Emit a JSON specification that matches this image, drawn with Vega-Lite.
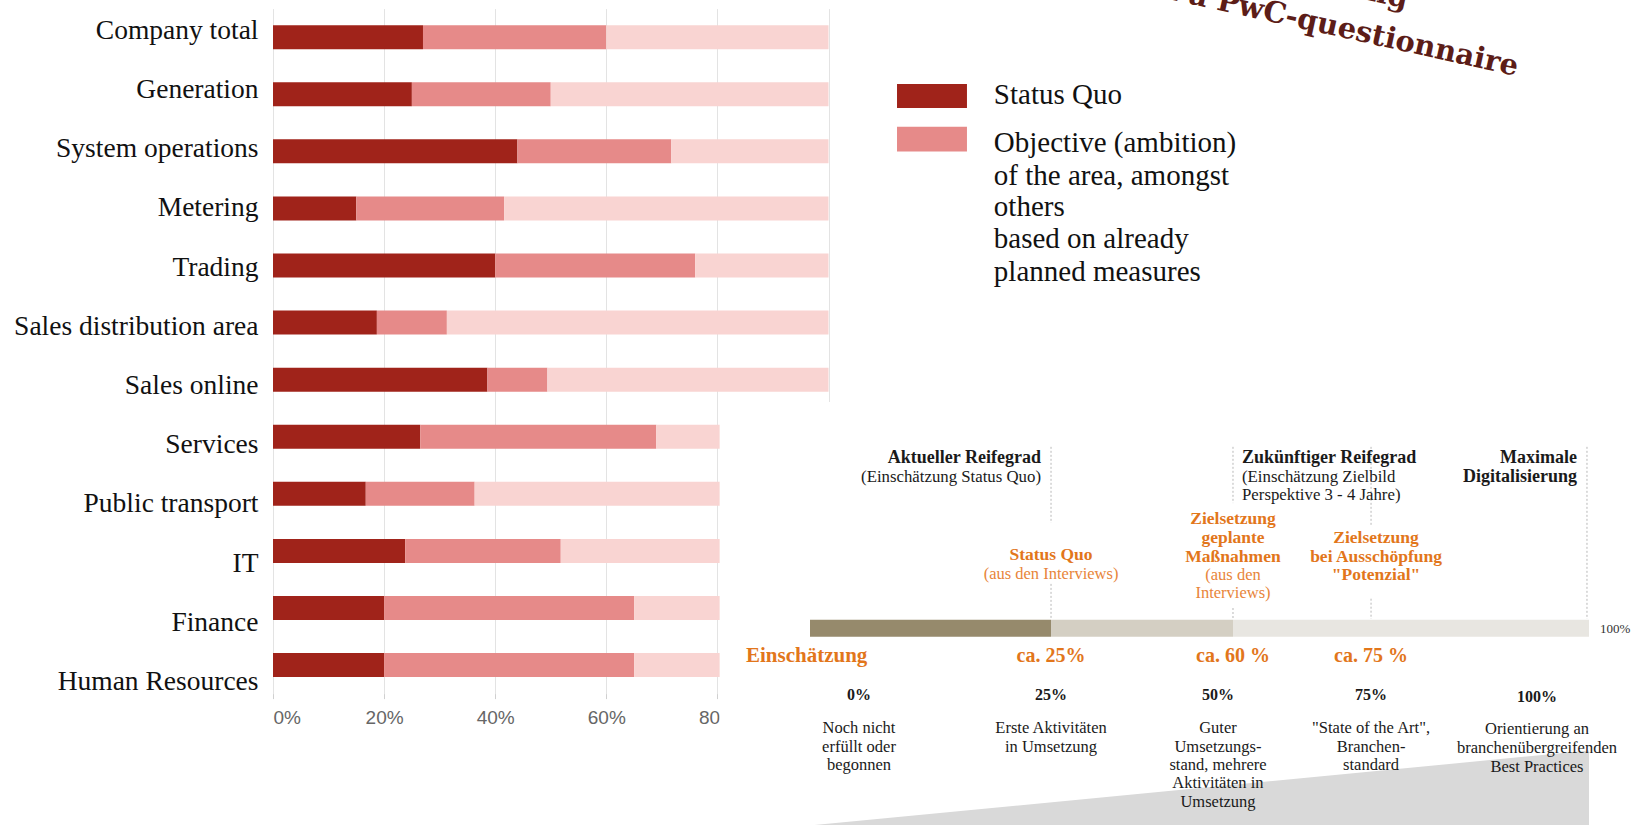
{
  "$schema": "https://vega.github.io/schema/vega-lite/v6.json",
  "autosize": {"type": "none"},
  "width": 555.5,
  "height": 685,
  "padding": {"left": 273, "top": 8.6, "right": 810.5, "bottom": 131.4},
  "background": "white",
  "config": {"view": {"stroke": null}, "font": "Liberation Serif"},
  "datasets": {
    "maturity": [
      {"area": "Company total", "segment": "Status Quo", "start": 0, "end": 0.27},
      {"area": "Company total", "segment": "Objective", "start": 0.27, "end": 0.60},
      {"area": "Company total", "segment": "Remaining", "start": 0.60, "end": 1},
      {"area": "Generation", "segment": "Status Quo", "start": 0, "end": 0.25},
      {"area": "Generation", "segment": "Objective", "start": 0.25, "end": 0.50},
      {"area": "Generation", "segment": "Remaining", "start": 0.50, "end": 1},
      {"area": "System operations", "segment": "Status Quo", "start": 0, "end": 0.44},
      {"area": "System operations", "segment": "Objective", "start": 0.44, "end": 0.717},
      {"area": "System operations", "segment": "Remaining", "start": 0.717, "end": 1},
      {"area": "Metering", "segment": "Status Quo", "start": 0, "end": 0.15},
      {"area": "Metering", "segment": "Objective", "start": 0.15, "end": 0.416},
      {"area": "Metering", "segment": "Remaining", "start": 0.416, "end": 1},
      {"area": "Trading", "segment": "Status Quo", "start": 0, "end": 0.40},
      {"area": "Trading", "segment": "Objective", "start": 0.40, "end": 0.76},
      {"area": "Trading", "segment": "Remaining", "start": 0.76, "end": 1},
      {"area": "Sales distribution area", "segment": "Status Quo", "start": 0, "end": 0.187},
      {"area": "Sales distribution area", "segment": "Objective", "start": 0.187, "end": 0.313},
      {"area": "Sales distribution area", "segment": "Remaining", "start": 0.313, "end": 1},
      {"area": "Sales online", "segment": "Status Quo", "start": 0, "end": 0.386},
      {"area": "Sales online", "segment": "Objective", "start": 0.386, "end": 0.494},
      {"area": "Sales online", "segment": "Remaining", "start": 0.494, "end": 1},
      {"area": "Services", "segment": "Status Quo", "start": 0, "end": 0.265},
      {"area": "Services", "segment": "Objective", "start": 0.265, "end": 0.69},
      {"area": "Services", "segment": "Remaining", "start": 0.69, "end": 1},
      {"area": "Public transport", "segment": "Status Quo", "start": 0, "end": 0.167},
      {"area": "Public transport", "segment": "Objective", "start": 0.167, "end": 0.363},
      {"area": "Public transport", "segment": "Remaining", "start": 0.363, "end": 1},
      {"area": "IT", "segment": "Status Quo", "start": 0, "end": 0.238},
      {"area": "IT", "segment": "Objective", "start": 0.238, "end": 0.518},
      {"area": "IT", "segment": "Remaining", "start": 0.518, "end": 1},
      {"area": "Finance", "segment": "Status Quo", "start": 0, "end": 0.20},
      {"area": "Finance", "segment": "Objective", "start": 0.20, "end": 0.65},
      {"area": "Finance", "segment": "Remaining", "start": 0.65, "end": 1},
      {"area": "Human Resources", "segment": "Status Quo", "start": 0, "end": 0.20},
      {"area": "Human Resources", "segment": "Objective", "start": 0.20, "end": 0.65},
      {"area": "Human Resources", "segment": "Remaining", "start": 0.65, "end": 1}
    ],
    "legendSwatches": [
      {"segment": "Status Quo", "top": -75.2, "bottom": -69.5},
      {"segment": "Objective", "top": -65.1, "bottom": -59.2}
    ],
    "legendLabels": [
      {"text": "Status Quo", "u": 23.6, "v": -72.55},
      {"text": "Objective (ambition)", "u": 23.6, "v": -61.18},
      {"text": "of the area, amongst", "u": 23.6, "v": -53.52},
      {"text": "others", "u": 23.6, "v": -46.10},
      {"text": "based on already", "u": 23.6, "v": -38.44},
      {"text": "planned measures", "u": 23.6, "v": -30.78}
    ],
    "titleLines": [
      {"text": "Maturity rating", "u": 76.5, "v": -93.05},
      {"text": "based on a PwC-questionnaire", "u": 90.63, "v": -77.07}
    ],
    "wedge": [
      {"u": 0.6, "top": 100, "base": 103},
      {"u": 100, "top": 82.4, "base": 103}
    ],
    "guides": [
      {"u": 30.94, "v0": 10.6, "v1": 28.6},
      {"u": 30.94, "v0": 43.0, "v1": 51.3},
      {"u": 54.30, "v0": 10.6, "v1": 23.9},
      {"u": 54.30, "v0": 48.7, "v1": 51.3},
      {"u": 72.02, "v0": 10.6, "v1": 29.5},
      {"u": 72.02, "v0": 46.5, "v1": 51.3},
      {"u": 99.74, "v0": 10.6, "v1": 51.3}
    ],
    "stages": [
      {"stage": "Status Quo", "from": 0, "to": 30.94},
      {"stage": "Zielsetzung geplante Maßnahmen", "from": 30.94, "to": 54.30},
      {"stage": "Maximale Digitalisierung", "from": 54.30, "to": 100}
    ],
    "headBoldRight": [
      {"text": "Aktueller Reifegrad", "u": 29.65, "v": 13.24},
      {"text": "Maximale", "u": 98.46, "v": 13.24},
      {"text": "Digitalisierung", "u": 98.46, "v": 17.73}
    ],
    "headBoldLeft": [
      {"text": "Zukünftiger Reifegrad", "u": 55.46, "v": 13.24}
    ],
    "headNoteRight": [
      {"text": "(Einschätzung Status Quo)", "u": 29.65, "v": 17.73}
    ],
    "headNoteLeft": [
      {"text": "(Einschätzung Zielbild", "u": 55.46, "v": 17.73},
      {"text": "Perspektive 3 - 4 Jahre)", "u": 55.46, "v": 21.99}
    ],
    "orangeBold": [
      {"text": "Status Quo", "u": 30.94, "v": 36.17},
      {"text": "Zielsetzung", "u": 54.30, "v": 27.66},
      {"text": "geplante", "u": 54.30, "v": 32.15},
      {"text": "Maßnahmen", "u": 54.30, "v": 36.64},
      {"text": "Zielsetzung", "u": 72.66, "v": 32.15},
      {"text": "bei Ausschöpfung", "u": 72.66, "v": 36.64},
      {"text": "\"Potenzial\"", "u": 72.66, "v": 40.90}
    ],
    "orangeNote": [
      {"text": "(aus den Interviews)", "u": 30.94, "v": 40.66},
      {"text": "(aus den", "u": 54.30, "v": 40.90},
      {"text": "Interviews)", "u": 54.30, "v": 45.15}
    ],
    "orangeValues": [
      {"text": "ca. 25%", "u": 30.94, "v": 60.05},
      {"text": "ca. 60 %", "u": 54.30, "v": 60.05},
      {"text": "ca. 75 %", "u": 72.02, "v": 60.05}
    ],
    "orangeLeft": [
      {"text": "Einschätzung", "u": -8.22, "v": 60.05}
    ],
    "scaleLabels": [
      {"text": "0%", "u": 6.29, "v": 69.27},
      {"text": "25%", "u": 30.94, "v": 69.27},
      {"text": "50%", "u": 52.37, "v": 69.27},
      {"text": "75%", "u": 72.02, "v": 69.27},
      {"text": "100%", "u": 93.32, "v": 69.74}
    ],
    "descriptions": [
      {"text": "Noch nicht", "u": 6.29, "v": 77.07},
      {"text": "erfüllt oder", "u": 6.29, "v": 81.56},
      {"text": "begonnen", "u": 6.29, "v": 85.82},
      {"text": "Erste Aktivitäten", "u": 30.94, "v": 77.07},
      {"text": "in Umsetzung", "u": 30.94, "v": 81.56},
      {"text": "Guter", "u": 52.37, "v": 77.07},
      {"text": "Umsetzungs-", "u": 52.37, "v": 81.56},
      {"text": "stand, mehrere", "u": 52.37, "v": 85.82},
      {"text": "Aktivitäten in", "u": 52.37, "v": 90.07},
      {"text": "Umsetzung", "u": 52.37, "v": 94.56},
      {"text": "\"State of the Art\",", "u": 72.02, "v": 77.07},
      {"text": "Branchen-", "u": 72.02, "v": 81.56},
      {"text": "standard", "u": 72.02, "v": 85.82},
      {"text": "Orientierung an", "u": 93.32, "v": 77.42},
      {"text": "branchenübergreifenden", "u": 93.32, "v": 81.80},
      {"text": "Best Practices", "u": 93.32, "v": 86.29}
    ],
    "barEnd": [
      {"text": "100%", "u": 101.41, "v": 53.66}
    ]
  },
  "layer": [
    {
      "data": {"name": "maturity"},
      "mark": {"type": "bar"},
      "encoding": {
        "y": {
          "field": "area", "type": "nominal", "sort": null,
          "scale": {"paddingInner": 0.58, "paddingOuter": 0.29},
          "axis": {"title": null, "labelFont": "Liberation Serif", "labelFontSize": 27.5, "labelColor": "#111111", "domain": false, "ticks": false, "grid": false, "labelPadding": 15, "labelLimit": 400, "labelOffset": {"expr": "-6.5 + 23.5 * datum.index"}}
        },
        "x": {
          "field": "start", "type": "quantitative",
          "scale": {"domain": [0, 1], "nice": false},
          "axis": {"title": null, "values": [0, 0.2, 0.4, 0.6, 0.8, 1], "format": ".0%", "labelFont": "Liberation Sans", "labelFontSize": 19, "labelColor": "#666666", "domain": false, "ticks": true, "tickColor": "#d0d0d0", "tickSize": 5, "grid": true, "gridColor": "#e3e3e3", "labelPadding": 10}
        },
        "x2": {"field": "end"},
        "color": {
          "field": "segment", "type": "nominal",
          "scale": {"domain": ["Status Quo", "Objective", "Remaining"], "range": ["#a0231a", "#e68a89", "#f9d4d2"]},
          "legend": null
        }
      }
    },
    {
      "resolve": {"scale": {"color": "independent"}},
      "layer": [
        {
          "data": {"values": [{"panel": "inset"}]},
          "mark": {"type": "rect", "color": "white"},
          "encoding": {
            "x": {"datum": -11.6, "type": "quantitative", "scale": {"domain": [0, 100], "range": [537, 1316], "nice": false, "zero": false}, "axis": null},
            "x2": {"datum": 107},
            "y": {"datum": 0, "type": "quantitative", "scale": {"domain": [0, 100], "range": [393.4, 816.4], "nice": false, "zero": false}, "axis": null},
            "y2": {"datum": 103}
          }
        },
        {
          "data": {"name": "wedge"},
          "mark": {"type": "area", "color": "#d9d9d9", "opacity": 1},
          "encoding": {
            "x": {"field": "u", "type": "quantitative", "scale": {"domain": [0, 100], "range": [537, 1316], "nice": false, "zero": false}, "axis": null},
            "y": {"field": "top", "type": "quantitative", "scale": {"domain": [0, 100], "range": [393.4, 816.4], "nice": false, "zero": false}, "axis": null},
            "y2": {"field": "base"}
          }
        },
        {
          "data": {"name": "guides"},
          "mark": {"type": "rule", "color": "#b8b8b8", "strokeDash": [2, 2], "strokeWidth": 1},
          "encoding": {
            "x": {"field": "u", "type": "quantitative", "scale": {"domain": [0, 100], "range": [537, 1316], "nice": false, "zero": false}, "axis": null},
            "y": {"field": "v0", "type": "quantitative", "scale": {"domain": [0, 100], "range": [393.4, 816.4], "nice": false, "zero": false}, "axis": null},
            "y2": {"field": "v1"}
          }
        },
        {
          "data": {"name": "stages"},
          "mark": {"type": "rect"},
          "encoding": {
            "x": {"field": "from", "type": "quantitative", "scale": {"domain": [0, 100], "range": [537, 1316], "nice": false, "zero": false}, "axis": null},
            "x2": {"field": "to"},
            "y": {"datum": 51.5, "type": "quantitative", "scale": {"domain": [0, 100], "range": [393.4, 816.4], "nice": false, "zero": false}, "axis": null},
            "y2": {"datum": 55.5},
            "color": {"field": "stage", "type": "nominal", "scale": {"domain": ["Status Quo", "Zielsetzung geplante Maßnahmen", "Maximale Digitalisierung"], "range": ["#968a6c", "#d4cfc3", "#e8e6e1"]}, "legend": null}
          }
        },
        {
          "data": {"name": "legendSwatches"},
          "mark": {"type": "rect"},
          "encoding": {
            "x": {"datum": 11.17, "type": "quantitative", "scale": {"domain": [0, 100], "range": [537, 1316], "nice": false, "zero": false}, "axis": null},
            "x2": {"datum": 20.15},
            "y": {"field": "top", "type": "quantitative", "scale": {"domain": [0, 100], "range": [393.4, 816.4], "nice": false, "zero": false}, "axis": null},
            "y2": {"field": "bottom"},
            "color": {"field": "segment", "type": "nominal", "scale": {"domain": ["Status Quo", "Objective"], "range": ["#a0231a", "#e68a89"]}, "legend": null}
          }
        },
        {
          "data": {"name": "legendLabels"},
          "mark": {"type": "text", "align": "left", "baseline": "middle", "font": "Liberation Serif", "fontSize": 29, "color": "#111111"},
          "encoding": {
            "x": {"field": "u", "type": "quantitative", "scale": {"domain": [0, 100], "range": [537, 1316], "nice": false, "zero": false}, "axis": null},
            "y": {"field": "v", "type": "quantitative", "scale": {"domain": [0, 100], "range": [393.4, 816.4], "nice": false, "zero": false}, "axis": null},
            "text": {"field": "text"}
          }
        },
        {
          "data": {"name": "titleLines"},
          "mark": {"type": "text", "align": "right", "baseline": "alphabetic", "angle": 12.5, "font": "DejaVu Serif", "fontSize": 29, "fontWeight": "bold", "color": "#5c1d18"},
          "encoding": {
            "x": {"field": "u", "type": "quantitative", "scale": {"domain": [0, 100], "range": [537, 1316], "nice": false, "zero": false}, "axis": null},
            "y": {"field": "v", "type": "quantitative", "scale": {"domain": [0, 100], "range": [393.4, 816.4], "nice": false, "zero": false}, "axis": null},
            "text": {"field": "text"}
          }
        },
        {
          "data": {"name": "headBoldRight"},
          "mark": {"type": "text", "align": "right", "baseline": "middle", "font": "Liberation Serif", "fontSize": 18, "fontWeight": "bold", "color": "#1a1a1a"},
          "encoding": {
            "x": {"field": "u", "type": "quantitative", "scale": {"domain": [0, 100], "range": [537, 1316], "nice": false, "zero": false}, "axis": null},
            "y": {"field": "v", "type": "quantitative", "scale": {"domain": [0, 100], "range": [393.4, 816.4], "nice": false, "zero": false}, "axis": null},
            "text": {"field": "text"}
          }
        },
        {
          "data": {"name": "headBoldLeft"},
          "mark": {"type": "text", "align": "left", "baseline": "middle", "font": "Liberation Serif", "fontSize": 18, "fontWeight": "bold", "color": "#1a1a1a"},
          "encoding": {
            "x": {"field": "u", "type": "quantitative", "scale": {"domain": [0, 100], "range": [537, 1316], "nice": false, "zero": false}, "axis": null},
            "y": {"field": "v", "type": "quantitative", "scale": {"domain": [0, 100], "range": [393.4, 816.4], "nice": false, "zero": false}, "axis": null},
            "text": {"field": "text"}
          }
        },
        {
          "data": {"name": "headNoteRight"},
          "mark": {"type": "text", "align": "right", "baseline": "middle", "font": "Liberation Serif", "fontSize": 16.8, "color": "#1a1a1a"},
          "encoding": {
            "x": {"field": "u", "type": "quantitative", "scale": {"domain": [0, 100], "range": [537, 1316], "nice": false, "zero": false}, "axis": null},
            "y": {"field": "v", "type": "quantitative", "scale": {"domain": [0, 100], "range": [393.4, 816.4], "nice": false, "zero": false}, "axis": null},
            "text": {"field": "text"}
          }
        },
        {
          "data": {"name": "headNoteLeft"},
          "mark": {"type": "text", "align": "left", "baseline": "middle", "font": "Liberation Serif", "fontSize": 16.8, "color": "#1a1a1a"},
          "encoding": {
            "x": {"field": "u", "type": "quantitative", "scale": {"domain": [0, 100], "range": [537, 1316], "nice": false, "zero": false}, "axis": null},
            "y": {"field": "v", "type": "quantitative", "scale": {"domain": [0, 100], "range": [393.4, 816.4], "nice": false, "zero": false}, "axis": null},
            "text": {"field": "text"}
          }
        },
        {
          "data": {"name": "orangeBold"},
          "mark": {"type": "text", "align": "center", "baseline": "middle", "font": "Liberation Serif", "fontSize": 17.5, "fontWeight": "bold", "color": "#e2761b"},
          "encoding": {
            "x": {"field": "u", "type": "quantitative", "scale": {"domain": [0, 100], "range": [537, 1316], "nice": false, "zero": false}, "axis": null},
            "y": {"field": "v", "type": "quantitative", "scale": {"domain": [0, 100], "range": [393.4, 816.4], "nice": false, "zero": false}, "axis": null},
            "text": {"field": "text"}
          }
        },
        {
          "data": {"name": "orangeNote"},
          "mark": {"type": "text", "align": "center", "baseline": "middle", "font": "Liberation Serif", "fontSize": 16.5, "color": "#e8853a"},
          "encoding": {
            "x": {"field": "u", "type": "quantitative", "scale": {"domain": [0, 100], "range": [537, 1316], "nice": false, "zero": false}, "axis": null},
            "y": {"field": "v", "type": "quantitative", "scale": {"domain": [0, 100], "range": [393.4, 816.4], "nice": false, "zero": false}, "axis": null},
            "text": {"field": "text"}
          }
        },
        {
          "data": {"name": "orangeValues"},
          "mark": {"type": "text", "align": "center", "baseline": "middle", "font": "Liberation Serif", "fontSize": 20, "fontWeight": "bold", "color": "#e2761b"},
          "encoding": {
            "x": {"field": "u", "type": "quantitative", "scale": {"domain": [0, 100], "range": [537, 1316], "nice": false, "zero": false}, "axis": null},
            "y": {"field": "v", "type": "quantitative", "scale": {"domain": [0, 100], "range": [393.4, 816.4], "nice": false, "zero": false}, "axis": null},
            "text": {"field": "text"}
          }
        },
        {
          "data": {"name": "orangeLeft"},
          "mark": {"type": "text", "align": "left", "baseline": "middle", "font": "Liberation Serif", "fontSize": 21, "fontWeight": "bold", "color": "#e2761b"},
          "encoding": {
            "x": {"field": "u", "type": "quantitative", "scale": {"domain": [0, 100], "range": [537, 1316], "nice": false, "zero": false}, "axis": null},
            "y": {"field": "v", "type": "quantitative", "scale": {"domain": [0, 100], "range": [393.4, 816.4], "nice": false, "zero": false}, "axis": null},
            "text": {"field": "text"}
          }
        },
        {
          "data": {"name": "scaleLabels"},
          "mark": {"type": "text", "align": "center", "baseline": "middle", "font": "Liberation Serif", "fontSize": 16, "fontWeight": "bold", "color": "#1a1a1a"},
          "encoding": {
            "x": {"field": "u", "type": "quantitative", "scale": {"domain": [0, 100], "range": [537, 1316], "nice": false, "zero": false}, "axis": null},
            "y": {"field": "v", "type": "quantitative", "scale": {"domain": [0, 100], "range": [393.4, 816.4], "nice": false, "zero": false}, "axis": null},
            "text": {"field": "text"}
          }
        },
        {
          "data": {"name": "descriptions"},
          "mark": {"type": "text", "align": "center", "baseline": "middle", "font": "Liberation Serif", "fontSize": 16.5, "color": "#1a1a1a"},
          "encoding": {
            "x": {"field": "u", "type": "quantitative", "scale": {"domain": [0, 100], "range": [537, 1316], "nice": false, "zero": false}, "axis": null},
            "y": {"field": "v", "type": "quantitative", "scale": {"domain": [0, 100], "range": [393.4, 816.4], "nice": false, "zero": false}, "axis": null},
            "text": {"field": "text"}
          }
        },
        {
          "data": {"name": "barEnd"},
          "mark": {"type": "text", "align": "left", "baseline": "middle", "font": "Liberation Serif", "fontSize": 13, "color": "#333333"},
          "encoding": {
            "x": {"field": "u", "type": "quantitative", "scale": {"domain": [0, 100], "range": [537, 1316], "nice": false, "zero": false}, "axis": null},
            "y": {"field": "v", "type": "quantitative", "scale": {"domain": [0, 100], "range": [393.4, 816.4], "nice": false, "zero": false}, "axis": null},
            "text": {"field": "text"}
          }
        }
      ]
    }
  ],
  "resolve": {"scale": {"x": "independent", "y": "independent", "color": "independent"}}
}
